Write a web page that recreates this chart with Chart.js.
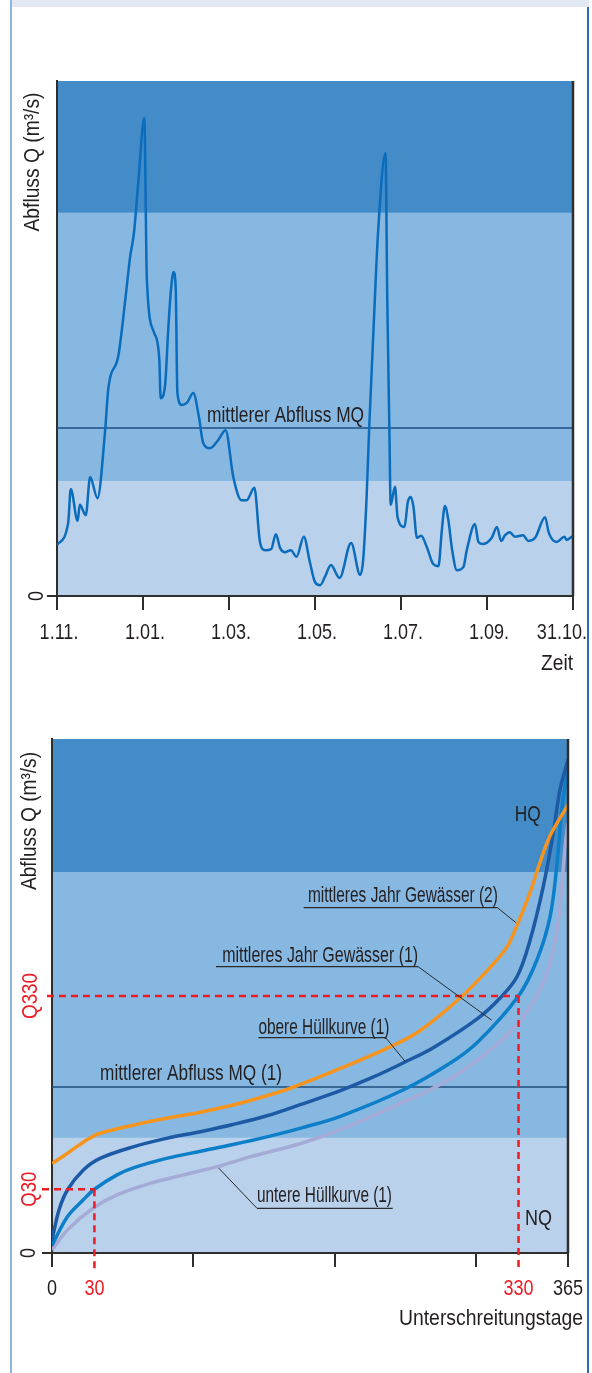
<!DOCTYPE html>
<html>
<head>
<meta charset="utf-8">
<script src="https://cdn.jsdelivr.net/npm/chart.js@4/dist/chart.umd.min.js"></script>
<style>
  body { margin: 0; background: #fff; width: 592px; height: 1373px; position: relative; overflow: hidden; }
  #topStrip { position: absolute; left: 10px; top: 0; width: 579px; height: 7px; background: #e3e8f5; }
  #leftLine { position: absolute; left: 10px; top: 0; width: 2px; height: 1373px; background: #8db6e6; }
  #rightLine { position: absolute; left: 587px; top: 7px; width: 2px; height: 1366px; background: #2c6cb6; }
  canvas { position: absolute; left: 0; }
  #hydroChart { top: 0; }
  #durationChart { top: 680px; }
</style>
</head>
<body>
<div id="topStrip"></div>
<div id="leftLine"></div>
<div id="rightLine"></div>
<canvas id="hydroChart" width="592" height="680"></canvas>
<canvas id="durationChart" width="592" height="693"></canvas>
<script>
// === DATA === //

// Ganglinie (Monate ab 1.11.)
const hydroMonths = [
  0, 0.26, 0.32, 0.48, 0.53, 0.67, 0.77, 0.94, 1.12, 1.19,
  1.43, 1.58, 1.70, 1.79, 1.89, 2.03, 2.09, 2.26, 2.38, 2.41,
  2.51, 2.59, 2.65, 2.71, 2.76, 2.80, 2.90, 3.02, 3.17, 3.30,
  3.40, 3.56, 3.75, 3.92, 4.10, 4.29, 4.41, 4.59, 4.72, 4.84,
  4.98, 5.09, 5.19, 5.30, 5.44, 5.57, 5.74, 5.88, 6.00, 6.12,
  6.23, 6.37, 6.57, 6.84, 7.05, 7.12, 7.20, 7.26, 7.36, 7.47,
  7.64, 7.68, 7.73, 7.76, 7.86, 7.92, 8.08, 8.16, 8.23, 8.29,
  8.37, 8.47, 8.60, 8.75, 8.87, 8.95, 9.02, 9.10, 9.19, 9.30,
  9.45, 9.53, 9.72, 9.80, 9.91, 10.11, 10.23, 10.33, 10.42, 10.53,
  10.65, 10.84, 10.96, 11.12, 11.35, 11.44, 11.62, 11.80, 11.85, 11.97,
  12
]
const hydroFlow = [
  9.9, 14.2, 20.8, 14.6, 17.7, 15.7, 23.1, 19.0, 32.2, 40.0,
  46.8, 56.9, 65.8, 70.5, 80.2, 92.8, 61.4, 51.1, 45.8, 38.4,
  40.6, 52.2, 59.4, 62.9, 60.0, 39.4, 37.1, 37.5, 39.4, 34.8,
  29.7, 28.7, 30.3, 32.2, 23.1, 18.6, 18.6, 21.0, 10.5, 8.9,
  9.1, 12.0, 9.3, 8.5, 8.9, 7.6, 11.5, 6.6, 2.7, 2.1,
  3.7, 6.0, 3.5, 10.3, 4.1, 7.0, 19.2, 32.6, 51.6, 71.1,
  86.0, 58.1, 32.2, 17.7, 21.2, 15.3, 13.4, 18.3, 19.2, 17.3,
  11.3, 11.7, 9.5, 6.2, 5.8, 12.8, 17.5, 14.8, 8.9, 5.0,
  5.6, 8.9, 14.0, 10.5, 10.1, 11.3, 13.4, 10.7, 11.8, 12.4,
  11.5, 11.8, 10.7, 11.3, 15.3, 12.2, 10.5, 11.5, 10.9, 11.5,
  11.6
]
const hydroTickMonths = [0, 2, 4, 6, 8, 10, 12]
const hydroTickLabels = ['1.11.', '1.01.', '1.03.', '1.05.', '1.07.', '1.09.', '31.10.']
const hydroBands = [0, 22.3, 74.4, 100]
const hydroMQ = 32.6

// Dauerlinie (Unterschreitungstage)
const durTickDays = [0, 100, 200, 300, 365]
const durLabelDays = [0, 30, 330, 365]
const durLabels = ['0', '30', '330', '365']
const durBands = [0, 22.4, 74.1, 100]
const durMQ = 32.3
const q30 = 12.4
const q330 = 50.0

const mean2Days = [0, 11, 25, 34, 58, 81, 105, 128, 152, 169, 204, 239, 260, 289, 310, 322, 329, 338, 344, 352, 365]
const mean2Flow = [17.4, 19.4, 22.1, 23.3, 24.9, 26.2, 27.4, 28.8, 30.6, 32.1, 35.9, 40.1, 43.2, 49.7, 55.6, 59.6, 63.8, 70.0, 75.0, 81.0, 87.2]

const upperDays = [0, 5, 11, 22, 34, 58, 81, 105, 128, 152, 176, 204, 227, 250, 270, 301, 317, 329, 338, 347.5, 354.6, 359.3, 365]
const upperFlow = [2.5, 8.4, 12.3, 16.1, 18.4, 20.7, 22.3, 23.6, 25.0, 26.7, 28.9, 31.6, 34.2, 37.2, 40.0, 45.6, 49.6, 53.8, 60.7, 71.3, 81.7, 90.1, 96.0]

const mean1Days = [0, 11, 22, 30, 46, 58, 81, 105, 128, 152, 176, 204, 249, 282, 301, 330, 343, 352.3, 357, 360.6, 365]
const mean1Flow = [1.5, 7.1, 10.3, 12.4, 15.2, 16.6, 18.4, 19.8, 21.1, 22.6, 24.3, 26.6, 31.8, 37.0, 41.0, 50.0, 57.0, 65.4, 75.2, 86.2, 95.0]

const lowerDays = [0, 11, 29, 46, 70, 93, 117, 140, 176, 204, 239, 272, 298, 324, 338, 350, 357, 360.6, 362.9, 365]
const lowerFlow = [0.6, 4.5, 8.7, 11.3, 13.6, 15.2, 16.8, 18.7, 21.3, 24.0, 28.2, 32.4, 36.9, 43.0, 47.8, 54.4, 62.2, 71.3, 79.0, 83.6]

// === STYLE === //

const bandColors = ['#bad1ec', '#86b8e2', '#438cc8']
const axisColor = '#2e2e2e'
const textColor = '#231f20'
const red = '#ed1c24'
const fontFamily = '"Liberation Sans", Arial, sans-serif'

function toPoints(xs, ys) {
  return xs.map((x, i) => ({ x: x, y: ys[i] }))
}

function label(ctx, text, x, y, opts) {
  opts = opts || {}
  ctx.save()
  ctx.font = `${opts.size || 22}px ${fontFamily}`
  let sx = opts.sx || 0.82
  if (opts.width) sx = opts.width / ctx.measureText(text).width
  ctx.translate(x, y)
  if (opts.rot) ctx.rotate(-Math.PI / 2)
  ctx.scale(sx, 1)
  ctx.fillStyle = opts.color || textColor
  ctx.textAlign = opts.align || 'left'
  ctx.textBaseline = opts.base || 'alphabetic'
  ctx.fillText(text, 0, 0)
  ctx.restore()
}

function stroke(ctx, x1, y1, x2, y2, color, width, dash) {
  ctx.save()
  ctx.strokeStyle = color
  ctx.lineWidth = width
  ctx.setLineDash(dash || [])
  ctx.beginPath()
  ctx.moveTo(x1, y1)
  ctx.lineTo(x2, y2)
  ctx.stroke()
  ctx.restore()
}

function drawBands(chart, bands) {
  const ctx = chart.ctx
  const area = chart.chartArea
  const yScale = chart.scales.y
  ctx.save()
  for (let i = 0; i < bands.length - 1; i++) {
    const top = yScale.getPixelForValue(bands[i + 1])
    const bottom = yScale.getPixelForValue(bands[i])
    ctx.fillStyle = bandColors[i]
    ctx.fillRect(area.left, top, area.right - area.left, bottom - top)
  }
  ctx.restore()
}

function makeChart(canvasId, datasets, xMax, xTicks, padding, plugin) {
  return new Chart(document.getElementById(canvasId), {
    type: 'line',
    data: { datasets: datasets },
    options: {
      responsive: false,
      animation: false,
      devicePixelRatio: 1,
      layout: { padding: padding },
      plugins: { legend: { display: false }, tooltip: { enabled: false } },
      elements: { point: { radius: 0 } },
      scales: {
        x: {
          type: 'linear', min: 0, max: xMax,
          ticks: { display: false },
          grid: { drawOnChartArea: false, tickLength: 14, color: axisColor, lineWidth: 2 },
          border: { color: axisColor, width: 2 },
          afterBuildTicks: s => { s.ticks = xTicks.map(v => ({ value: v })) },
          afterFit: s => { s.height = 0 }
        },
        y: {
          type: 'linear', min: 0, max: 100,
          ticks: { display: false },
          grid: { drawOnChartArea: false, tickLength: 10, color: axisColor, lineWidth: 2 },
          border: { color: axisColor, width: 2 },
          afterBuildTicks: s => { s.ticks = [{ value: 0 }] },
          afterFit: s => { s.width = 0 }
        }
      }
    },
    plugins: [plugin]
  })
}

// === CHART 1: GANGLINIE === //

const hydroDecor = {
  id: 'hydroDecor',
  beforeDraw(chart) { drawBands(chart, hydroBands) },
  afterDraw(chart) {
    const ctx = chart.ctx
    const area = chart.chartArea
    const x = v => chart.scales.x.getPixelForValue(v)
    const y = v => chart.scales.y.getPixelForValue(v)
    stroke(ctx, area.right, area.top, area.right, area.bottom, axisColor, 2.5)
    label(ctx, 'Abfluss Q (m³/s)', 33, 162, { rot: true, align: 'center', base: 'middle', width: 139 })
    label(ctx, '0', 37, y(0), { rot: true, align: 'center', base: 'middle' })
    hydroTickMonths.forEach((m, i) => {
      const last = i === hydroTickMonths.length - 1
      label(ctx, hydroTickLabels[i], last ? x(m) + 14 : x(m) + 2, 639, { align: last ? 'right' : 'center' })
    })
    label(ctx, 'Zeit', area.right, 670, { align: 'right', width: 32 })
    label(ctx, 'mittlerer Abfluss MQ', x(3.49), y(33.8), { width: 157 })
  }
}

makeChart('hydroChart', [
  {
    data: toPoints(hydroMonths, hydroFlow),
    borderColor: '#0b6cbc', borderWidth: 2.5,
    cubicInterpolationMode: 'monotone'
  },
  {
    data: toPoints([0, 12], [hydroMQ, hydroMQ]),
    borderColor: '#1d4f85', borderWidth: 1.5
  }
], 12, hydroTickMonths, { left: 57, right: 19, top: 81, bottom: 84 }, hydroDecor)

// === CHART 2: DAUERLINIE === //

const durationDecor = {
  id: 'durationDecor',
  beforeDraw(chart) { drawBands(chart, durBands) },
  afterDatasetsDraw(chart) {
    const ctx = chart.ctx
    const area = chart.chartArea
    const x = v => chart.scales.x.getPixelForValue(v)
    const y = v => chart.scales.y.getPixelForValue(v)
    stroke(ctx, area.left - 10, y(q30), x(30), y(q30), red, 2.5, [7, 5])
    stroke(ctx, x(30), y(q30), x(30), area.bottom + 16, red, 2.5, [7, 5])
    stroke(ctx, area.left - 5, y(q330), x(330), y(q330), red, 2.5, [7, 5])
    stroke(ctx, x(330), y(q330), x(330), area.bottom + 16, red, 2.5, [7, 5])
  },
  afterDraw(chart) {
    const ctx = chart.ctx
    const area = chart.chartArea
    const x = v => chart.scales.x.getPixelForValue(v)
    const y = v => chart.scales.y.getPixelForValue(v)
    stroke(ctx, area.right, area.top, area.right, area.bottom, axisColor, 2.5)

    label(ctx, 'Abfluss Q (m³/s)', 30, 141, { rot: true, align: 'center', base: 'middle', width: 138 })
    label(ctx, '0', 29, y(0), { rot: true, align: 'center', base: 'middle' })
    label(ctx, 'Q30', 30, y(q30), { rot: true, align: 'center', base: 'middle', width: 35, color: red })
    label(ctx, 'Q330', 31, y(q330), { rot: true, align: 'center', base: 'middle', width: 46, color: red })

    durLabelDays.forEach((d, i) => {
      const isRed = d === 30 || d === 330
      label(ctx, durLabels[i], x(d), 615, { align: 'center', color: isRed ? red : textColor })
    })
    label(ctx, 'Unterschreitungstage', 583, 645, { align: 'right', width: 184 })

    const ink = '#2b2b2b'
    label(ctx, 'HQ', x(345.7), y(84.0), { align: 'right', width: 26 })
    label(ctx, 'mittleres Jahr Gewässer (2)', x(181), y(68.3), { width: 190 })
    stroke(ctx, x(178), y(67.2), x(315), y(67.2), ink, 1.3)
    stroke(ctx, x(315), y(67.2), x(328), y(64.3), ink, 1)
    label(ctx, 'mittleres Jahr Gewässer (1)', x(259), y(56.7), { align: 'right', width: 196 })
    stroke(ctx, x(116), y(55.7), x(259), y(55.7), ink, 1.3)
    stroke(ctx, x(259), y(55.7), x(311), y(45.3), ink, 1)
    label(ctx, 'obere Hüllkurve (1)', x(146), y(42.7), { width: 131 })
    stroke(ctx, x(146), y(41.9), x(236), y(41.9), ink, 1.3)
    stroke(ctx, x(236), y(41.9), x(250), y(37.2), ink, 1)
    label(ctx, 'mittlerer Abfluss MQ (1)', x(34), y(33.7), { width: 182 })
    label(ctx, 'untere Hüllkurve (1)', x(145), y(10.0), { width: 135 })
    stroke(ctx, x(145), y(8.7), x(241), y(8.7), ink, 1.3)
    stroke(ctx, x(145), y(8.7), x(118), y(16.5), ink, 1)
    label(ctx, 'NQ', x(334.6), y(5.4), { width: 27 })
  }
}

const curveStyle = { borderWidth: 3.5, tension: 0.35 }

makeChart('durationChart', [
  { data: toPoints(mean2Days, mean2Flow), borderColor: '#f7941e', ...curveStyle },
  { data: toPoints(upperDays, upperFlow), borderColor: '#1c5aa5', ...curveStyle },
  { data: toPoints(mean1Days, mean1Flow), borderColor: '#0d7fc8', ...curveStyle },
  { data: toPoints(lowerDays, lowerFlow), borderColor: '#a5aad6', ...curveStyle },
  { data: toPoints([0, 365], [durMQ, durMQ]), borderColor: '#1d4f7a', borderWidth: 1.5 }
], 365, durTickDays, { left: 52, right: 24, top: 59, bottom: 120 }, durationDecor)
</script>
</body>
</html>
